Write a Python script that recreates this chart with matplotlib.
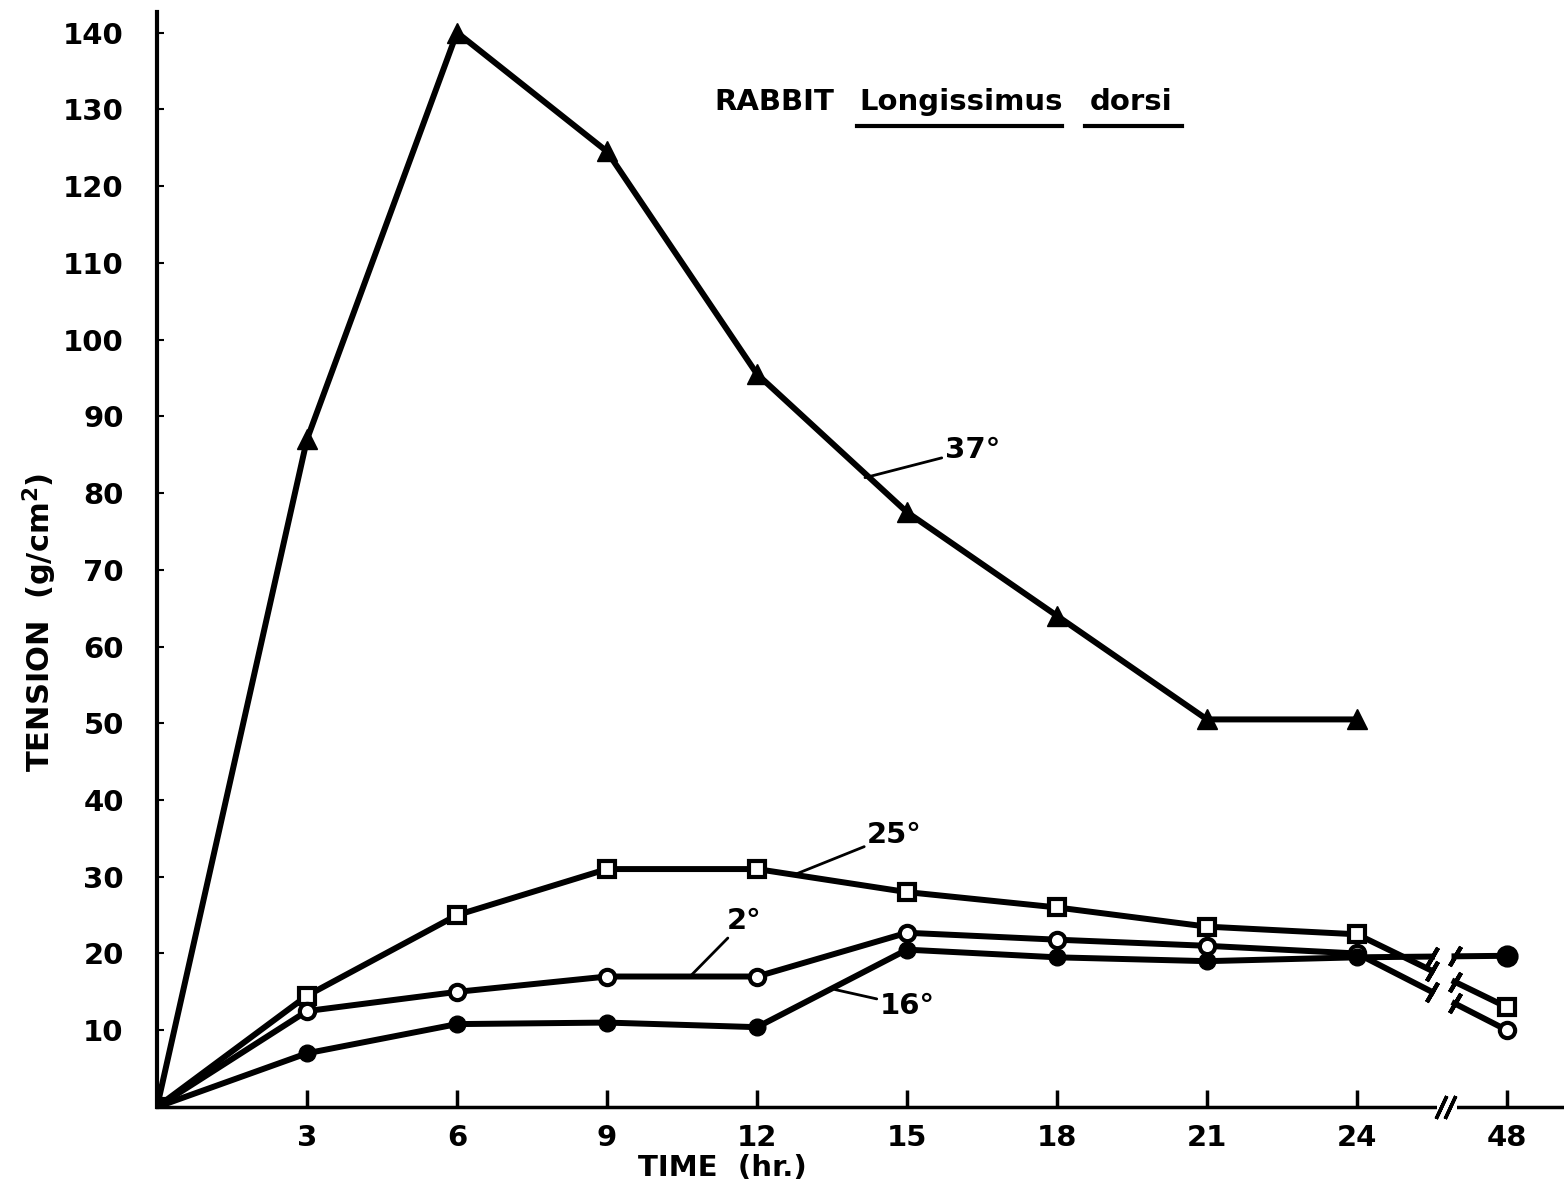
import numpy as np
import matplotlib.pyplot as plt
from matplotlib.patches import Rectangle

# rabbit longissimus dorsi, tension vs time at 4 temperatures
hours = [0, 3, 6, 9, 12, 15, 18, 21, 24]
tension_37 = [0, 87, 140, 124.5, 95.5, 77.5, 64, 50.5, 50.5]
tension_25 = [0, 14.5, 25, 31, 31, 28, 26, 23.5, 22.5]
tension_2 = [0, 12.5, 15, 17, 17, 22.7, 21.8, 21, 20]
tension_16 = [0, 7, 10.8, 11, 10.4, 20.5, 19.5, 19, 19.5]
# values at 48 hr (plotted after the axis break)
at48 = {'25': 13, '2': 10, '16': 19.7}
pos48 = 27

xtick_pos = [3, 6, 9, 12, 15, 18, 21, 24, 27]
xtick_lab = ['3', '6', '9', '12', '15', '18', '21', '24', '48']
ytick_pos = list(range(10, 150, 10))

plt.rcParams['font.family'] = ['DejaVu Sans']
plt.rcParams['font.weight'] = 'bold'
plt.rcParams['mathtext.default'] = 'bf'

fig = plt.figure(figsize=(15.64, 11.93), dpi=100)
ax = fig.add_axes([0.1004, 0.0721, 0.8996, 0.918])

lw = 4.3
ax.plot(hours, tension_37, color='black', lw=lw, marker='^', ms=15, mfc='black', zorder=3)
ax.plot(hours, tension_25, color='black', lw=lw, marker='s', ms=11, mfc='white', mew=3, zorder=4)
ax.plot(hours, tension_2, color='black', lw=lw, marker='o', ms=11, mfc='white', mew=3, zorder=4)
ax.plot(hours, tension_16, color='black', lw=lw, marker='o', ms=12, mfc='black', zorder=4)

# segments 24 -> 48 with a break
gap_lo, gap_hi = 25.5, 25.95
series_last = {'25': (tension_25[-1], 's', 'white', 11),
               '2': (tension_2[-1], 'o', 'white', 11),
               '16': (tension_16[-1], 'o', 'black', 13)}
for key, (y24, mk, fc, ms) in series_last.items():
    y48 = at48[key]
    ya = np.interp(gap_lo, [24, pos48], [y24, y48])
    yb = np.interp(gap_hi, [24, pos48], [y24, y48])
    ax.plot([24, gap_lo], [y24, ya], color='black', lw=lw, zorder=3)
    ax.plot([gap_hi, pos48], [yb, y48], color='black', lw=lw, zorder=3)
    ax.plot([gap_lo, gap_hi], [ya, yb], ls='none', marker=(2, 2, -30), ms=16,
            mec='black', mew=3, zorder=3)
    ax.plot([pos48], [y48], marker=mk, ms=ms, mfc=fc, mec='black', mew=3, zorder=4)

ax.set_xlim(0, 28.14)
ax.set_ylim(0, 142.7)

for s in ['top', 'right']:
    ax.spines[s].set_visible(False)
ax.spines['left'].set_linewidth(3)
ax.spines['bottom'].set_linewidth(2.5)

ax.set_xticks(xtick_pos)
ax.set_xticklabels(xtick_lab)
ax.set_yticks(ytick_pos)
ax.tick_params(axis='x', direction='in', length=12, width=2.5, pad=12, labelsize=21)
ax.tick_params(axis='y', direction='in', length=5, width=1.5, pad=24, labelsize=21)

# x axis break marks
ax.add_patch(Rectangle((25.6, -0.6), 0.4, 1.2, facecolor='white', edgecolor='none',
                       clip_on=False, zorder=5))
for xb in [25.68, 25.86]:
    ax.plot([xb], [0], marker=(2, 2, -25), ms=18, mec='black', mew=2.5,
            clip_on=False, zorder=6)

# labels
fig.text(40 / 1564, 1 - 622 / 1193, 'TENSION  (g/cm$^2$)', rotation=90,
         ha='center', va='center', fontsize=22)
fig.text(722 / 1564, 1 - 1168 / 1193, 'TIME  (hr.)', ha='center', va='center', fontsize=21)

# title
ax.text(11.15, 130.9, 'RABBIT', fontsize=21, va='center', ha='left')
ax.text(14.05, 130.9, 'Longissimus', fontsize=21, va='center', ha='left')
ax.text(18.65, 130.9, 'dorsi', fontsize=21, va='center', ha='left')
ax.plot([14.0, 18.1], [127.8, 127.8], color='black', lw=3)
ax.plot([18.55, 20.5], [127.8, 127.8], color='black', lw=3)

# curve labels with leader lines
lead = dict(arrowstyle='-', color='black', lw=2, shrinkA=0, shrinkB=0)
ax.annotate('37°', xy=(14.16, 82), xytext=(15.75, 85.6), fontsize=21,
            ha='left', va='center', arrowprops=lead)
ax.annotate('25°', xy=(12.76, 30.3), xytext=(14.2, 35.5), fontsize=21,
            ha='left', va='center', arrowprops=lead)
ax.annotate('2°', xy=(10.66, 17), xytext=(11.4, 24.2), fontsize=21,
            ha='left', va='center', arrowprops=lead)
ax.annotate('16°', xy=(13.56, 15.3), xytext=(14.45, 13.2), fontsize=21,
            ha='left', va='center', arrowprops=lead)

fig.savefig('out.png', dpi=100)
